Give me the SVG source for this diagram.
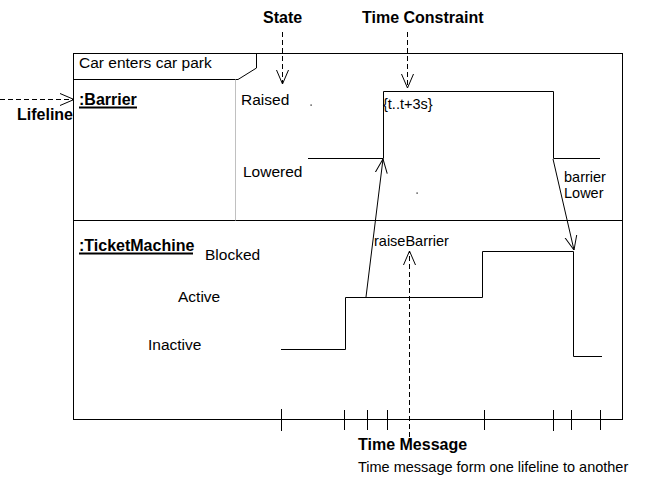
<svg xmlns="http://www.w3.org/2000/svg" width="659" height="485" viewBox="0 0 659 485">
<style>
text{font-family:"Liberation Sans",Arial,sans-serif;fill:#000;font-size:15.5px}
.b{font-weight:bold;font-size:16px}
.s{font-size:14.5px}
.ln{stroke:#000;stroke-width:1;fill:none}
.dash{stroke:#000;stroke-width:1;fill:none;stroke-dasharray:5,3}
</style>
<defs>
<marker id="open" viewBox="0 0 14 14" refX="14" refY="7" markerWidth="14" markerHeight="14" markerUnits="userSpaceOnUse" orient="auto">
<path d="M0,1 L14,7 L0,13" fill="none" stroke="#000" stroke-width="1" stroke-dasharray="none"/>
</marker>
</defs>
<rect width="659" height="485" fill="#fff"/>
<g id="frame">
<rect x="73.5" y="53.5" width="549" height="366" class="ln"/>
<path d="M73.5,79.5 H238 L256.5,68 V53.5" class="ln"/>
<text x="79" y="68">Car enters car park</text>
<line x1="73.5" y1="220.5" x2="622.5" y2="220.5" class="ln"/>
<line x1="235.5" y1="79.5" x2="235.5" y2="220.5" stroke="#c0c0c0" stroke-width="1"/>
</g>
<g id="barrier">
<text x="79" y="104.5" class="b">:Barrier</text>
<line x1="79" y1="107.5" x2="137" y2="107.5" stroke="#000" stroke-width="2"/>
<text x="241" y="105">Raised</text>
<text x="243" y="177">Lowered</text>
<rect x="310.5" y="104.5" width="1.2" height="1.2" fill="#000"/>
<rect x="416.5" y="192.5" width="1.2" height="1.2" fill="#000"/>
<path d="M308,158.5 H383.5 V91.5 H553.5 V158.5 H600" class="ln"/>
<text x="383" y="109" class="s">{t..t+3s}</text>
<text x="564" y="182" class="s">barrier</text>
<text x="564" y="198" class="s">Lower</text>
</g>
<g id="ticketmachine">
<text x="79" y="250.5" class="b">:TicketMachine</text>
<line x1="79" y1="253.5" x2="193" y2="253.5" stroke="#000" stroke-width="2"/>
<text x="205" y="260">Blocked</text>
<text x="178" y="302">Active</text>
<text x="148" y="350">Inactive</text>
<path d="M281,349.5 H345.5 V297.5 H482.5 V251.5 H573.5 V356.5 H602" class="ln"/>
<text x="374" y="246" class="s">raiseBarrier</text>
</g>
<g id="timeline">
<path d="M281.5,409 V431 M344.5,410 V430 M367.5,410 V430 M387.5,410 V430 M484.5,410 V430 M553.5,410 V431 M571.5,410 V430 M600.5,410 V430" class="ln"/>
</g>
<g id="labels">
<text x="263" y="23" class="b">State</text>
<text x="362" y="23" class="b">Time Constraint</text>
<text x="17" y="120" class="b">Lifeline</text>
<text x="358" y="450" class="b">Time Message</text>
<text x="358" y="472" class="s">Time message form one lifeline to another</text>
</g>
<g id="connectors">
<line x1="366" y1="297" x2="383" y2="159" class="ln" marker-end="url(#open)"/>
<line x1="553" y1="159" x2="574" y2="250" class="ln" marker-end="url(#open)"/>
<line x1="0" y1="99.5" x2="74" y2="99.5" class="dash" marker-end="url(#open)"/>
<line x1="282.5" y1="32" x2="282.5" y2="84" class="dash" marker-end="url(#open)"/>
<line x1="407.5" y1="32" x2="407.5" y2="88" class="dash" marker-end="url(#open)"/>
<line x1="409.5" y1="437" x2="409.5" y2="251" class="dash" marker-end="url(#open)"/>
</g>
</svg>
